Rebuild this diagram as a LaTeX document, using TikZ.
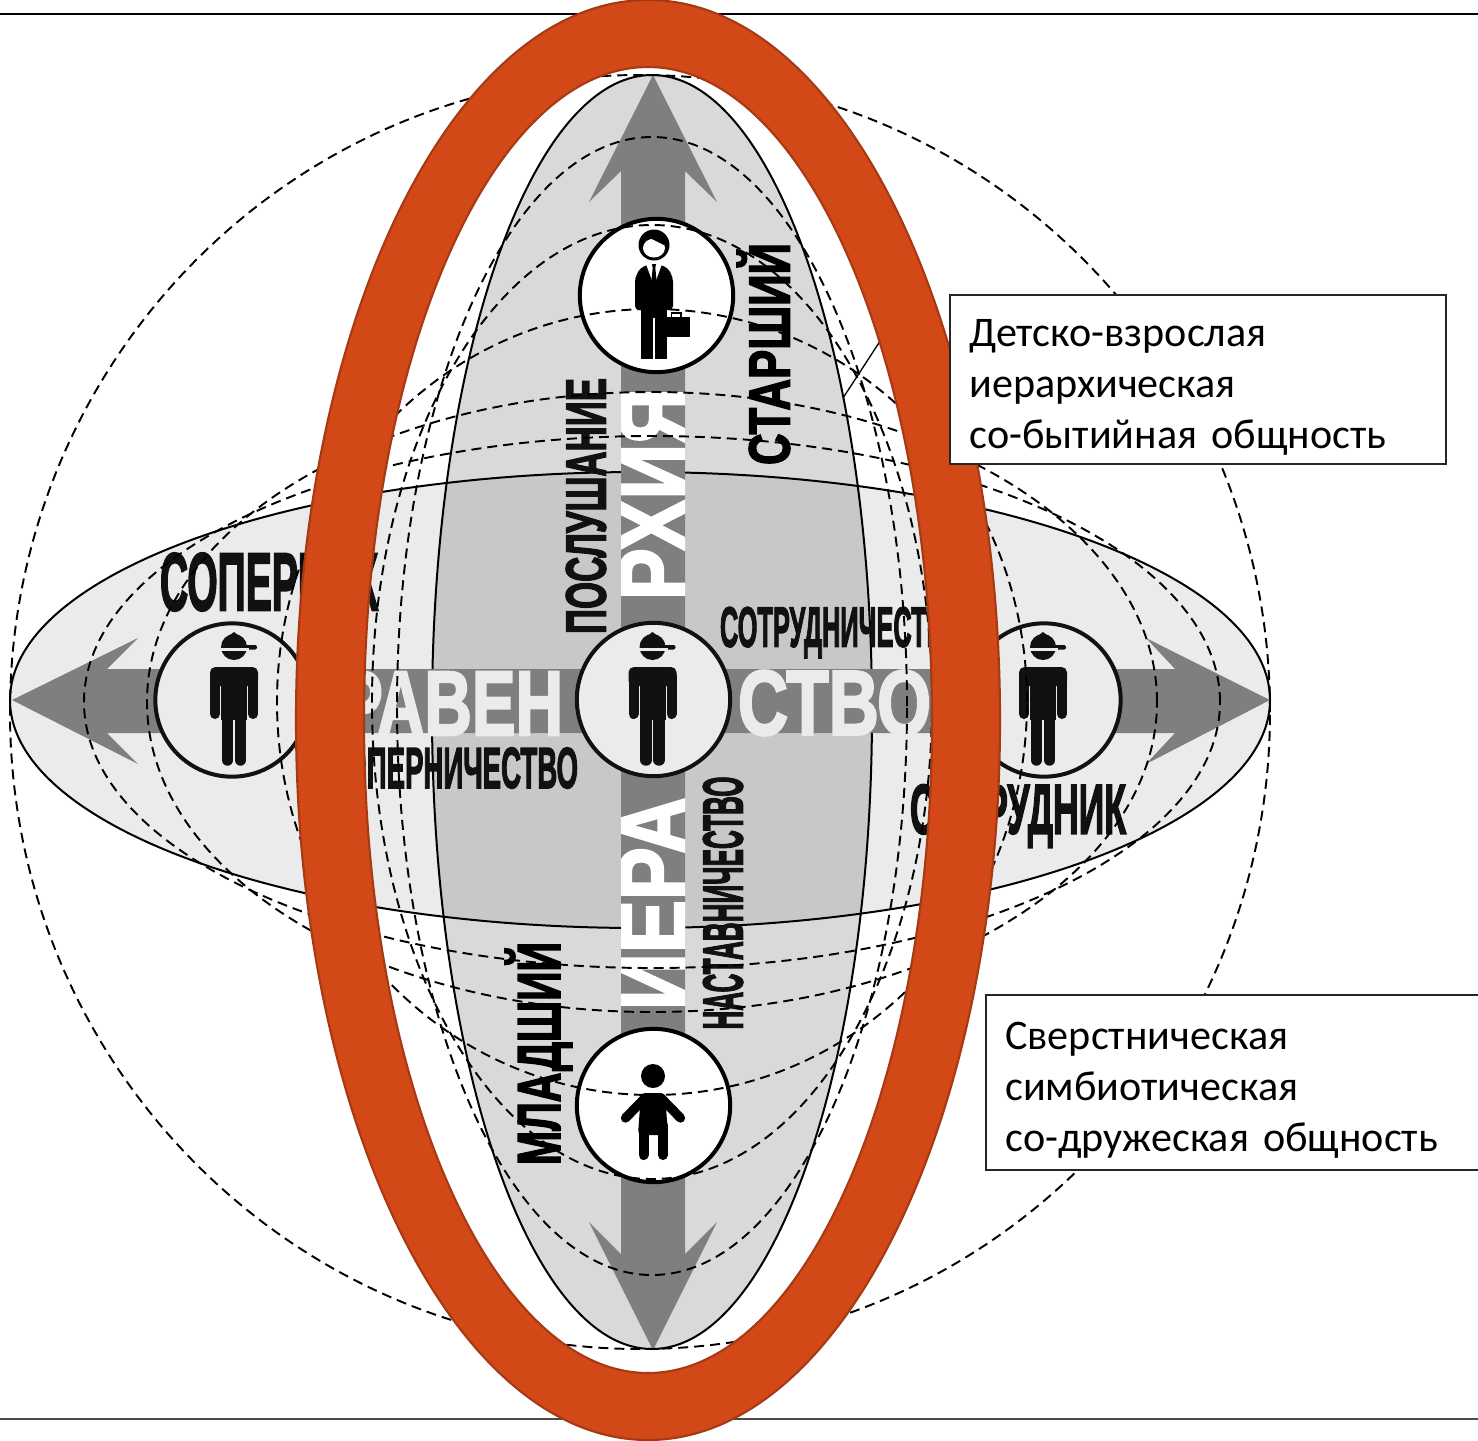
\documentclass[tikz,border=0pt]{standalone}
\usepackage{graphicx}
\usepackage{fontspec}
\setmainfont{Carlito}
\setsansfont{Liberation Sans}[BoldFeatures={FakeBold=2.8}]
\definecolor{ringfill}{HTML}{D34817}
\definecolor{ringedge}{HTML}{A63A12}
\definecolor{hfill}{HTML}{EBEBEB}
\definecolor{vfill}{HTML}{D9D9D9}
\definecolor{xfill}{HTML}{C8C8C8}
\definecolor{barfill}{HTML}{7F7F7F}
\definecolor{ink}{HTML}{111111}
\newdimen\unitpx \unitpx=0.75pt
\newcommand{\pxellipse}[4]{(#1,#2) ellipse [x radius=#3*0.75pt, y radius=#4*0.75pt]}
% name, cx, cy, width, height, rotation, colour, text
\newcommand{\squeezed}[8]{\node[lbl,rotate=#6,text=#7] (#1) at (#2,#3) {\resizebox*{#4\unitpx}{#5\unitpx}{#8}};}
\newcommand{\boyicon}[3]{%
  \begin{scope}[shift={(#1,#2)}]
    \fill[#3] (2,-53) circle [radius=13*0.75pt];
    \fill[#3,rounded corners=1.5pt] (2,-55) rectangle (25,-50.5);
    \fill[#3] (2,-68) -- (6,-65) -- (-2,-65) -- cycle;
    \fill[hfill] (-13,-52.5) rectangle (17,-49.5);
    \fill[#3,rounded corners=4pt] (-22,-33) rectangle (26,-14);
    \draw[#3,line width=7.5pt,line cap=round] (-17,-24) -- (-17,14);
    \draw[#3,line width=7.5pt,line cap=round] (21,-24) -- (21,14);
    \fill[#3] (-11,-33) rectangle (15,20);
    \draw[#3,line width=8.6pt,line cap=round] (-4.5,10) -- (-4.5,60);
    \draw[#3,line width=8.6pt,line cap=round] (8.5,10) -- (8.5,60);
  \end{scope}}
\tikzset{
  x=0.75pt,y=-0.75pt,
  lbl/.style={inner sep=0pt,outer sep=0pt,font=\sffamily\bfseries},
  solidrim/.style={draw=black,line width=1.5pt},
  dashrim/.style={draw=black,line width=1.45pt,dash pattern=on 7.5pt off 4.5pt},
  rimcircle/.style={line width=3pt},
  infobox/.style={draw=black!85,fill=white,line width=1.1pt,anchor=north west,align=left,
    font=\fontsize{31.6pt}{38.25pt}\selectfont,inner xsep=14.5pt,inner ysep=0pt,outer sep=0pt},
}
\begin{document}
\begin{tikzpicture}
\useasboundingbox (0,0) rectangle (1478,1440);
\clip (0,0) rectangle (1478,1440);
\fill[white] (0,0) rectangle (1478,1440);
% rules
\coordinate (ruleTL) at (0,14); \coordinate (ruleTR) at (1478,14);
\coordinate (ruleBL) at (0,1419); \coordinate (ruleBR) at (1478,1419);
\draw[black,line width=0.9pt] (ruleTL) -- (ruleTR);
\draw[black!70,line width=0.9pt] (ruleBL) -- (ruleBR);
% ellipses
\fill[hfill] \pxellipse{640}{700}{630}{228};
\fill[vfill] \pxellipse{652}{712}{220}{637};
\begin{scope}
  \clip \pxellipse{640}{700}{630}{228};
  \fill[xfill] \pxellipse{652}{712}{220}{637};
\end{scope}
\draw[solidrim] \pxellipse{640}{700}{630}{228};
\draw[solidrim] \pxellipse{652}{712}{220}{637};
% arrows
\fill[barfill] (653,75) -- (717,202) -- (685,171) -- (685,1254) -- (717,1222) -- (653,1350)
  -- (589,1222) -- (621,1254) -- (621,171) -- (589,202) -- cycle;
\fill[barfill] (12,700) -- (138,638) -- (107,669) -- (1175,669) -- (1146,638) -- (1270,700)
  -- (1146,764) -- (1175,733) -- (107,733) -- (138,764) -- cycle;
% labels
\squeezed{sop}{269}{582}{218}{58}{0}{ink}{СОПЕРНИК}
\squeezed{sopch}{452}{768}{252}{41}{0}{ink}{СОПЕРНИЧЕСТВО}
\squeezed{sotch}{842}{632.5}{244}{51}{0}{ink}{СОТРУДНИЧЕСТВО}
\squeezed{sotr}{1018}{816}{216}{63}{0}{ink}{СОТРУДНИК}
\squeezed{rav}{451}{703.5}{224}{63}{0}{hfill}{РАВЕН}
\squeezed{stv}{834.5}{703}{193}{65}{0}{hfill}{СТВО}
\begin{scope}
  \clip (621,300) rectangle (685,1100);
  \squeezed{ier}{653}{903.5}{213}{66}{90}{white}{ИЕРА}
  \squeezed{arh}{653}{494}{212}{66}{90}{white}{РХИЯ}
\end{scope}
\squeezed{posl}{586}{506}{256}{40}{90}{ink}{ПОСЛУШАНИЕ}
\squeezed{nast}{723}{903}{253}{40}{90}{ink}{НАСТАВНИЧЕСТВО}
\squeezed{star}{763.5}{354}{222}{53}{90}{black}{СТАРШИЙ}
\squeezed{mlad}{538.5}{1053.5}{223}{67}{90}{black}{МЛАДШИЙ}
% person circles
\node[circle,minimum size=115pt,inner sep=0pt,draw=ink,fill=hfill,rimcircle] (cl) at (232,700) {};
\node[circle,minimum size=115pt,inner sep=0pt,draw=ink,fill=hfill,rimcircle] (cc) at (653.5,699.5) {};
\node[circle,minimum size=115pt,inner sep=0pt,draw=ink,fill=hfill,rimcircle] (cr) at (1044,700) {};
\node[circle,minimum size=115pt,inner sep=0pt,draw=black,fill=white,rimcircle] (ct) at (656.5,295.5) {};
\node[circle,minimum size=115pt,inner sep=0pt,draw=black,fill=white,rimcircle] (cb) at (653.5,1105.5) {};
\boyicon{232}{700}{ink}
\boyicon{650.5}{700}{ink}
\boyicon{1041}{700}{ink}
% adult
\fill[black] (654,245) circle [radius=15.5*0.75pt];
\fill[white] (654,248) ellipse [x radius=11*0.75pt, y radius=9.5*0.75pt];
\fill[black] (643,240) -- (654,233) -- (666,240) -- (664,245) -- (652,239) -- cycle;
\fill[black,rounded corners=3pt] (635,310) -- (635,278) -- (640,268) -- (650,264) -- (658,264) -- (668,268) -- (673,278) -- (673,310) -- cycle;
\fill[white] (646,264) -- (662,264) -- (654,286) -- cycle;
\fill[black] (652,264) -- (656,264) -- (655.3,268) -- (657,284) -- (654,289) -- (651,284) -- (652.7,268) -- cycle;
\fill[black] (641,308) rectangle (667,359);
\fill[white] (653,318) rectangle (655,360);
\fill[black] (664,317) rectangle (689.5,337);
\draw[black,line width=1.4pt] (671.5,317) -- (671.5,313) -- (681,313) -- (681,317);
% child
\fill[black] (653,1076) circle [radius=12*0.75pt];
\fill[black,rounded corners=3pt] (641,1093) -- (665,1093) -- (668,1135) -- (638,1135) -- cycle;
\draw[black,line width=7pt,line cap=round] (645,1098) -- (625.5,1118);
\draw[black,line width=7pt,line cap=round] (661,1098) -- (680.5,1118);
\draw[black,line width=7.5pt,line cap=round] (643.5,1125) -- (643.5,1155);
\draw[black,line width=7.5pt,line cap=round] (663,1125) -- (663,1155);
% dashed ellipses
\draw[dashrim] \pxellipse{640}{712}{630}{637};
\draw[dashrim] \pxellipse{652}{702}{568}{266};
\draw[dashrim] \pxellipse{652}{702}{505}{310};
\draw[dashrim] \pxellipse{652}{702}{375}{393};
\draw[dashrim] \pxellipse{652}{702}{280}{477};
\draw[dashrim] \pxellipse{652}{706}{255}{569};
% callout
\coordinate (calloutA) at (843,398); \coordinate (calloutB) at (886,332);
\draw[black,line width=1pt] (calloutA) -- (calloutB);
% ring
\path[fill=ringfill,even odd rule,draw=ringedge,line width=1.6pt]
  \pxellipse{648}{720}{352}{720} \pxellipse{648}{720}{284}{653};
% boxes
\node[infobox,text width=343pt,minimum height=126.75pt] (box1) at (950,295)
  {\rule{0pt}{32pt}Детско-взрослая\\иерархическая\\со-бытийная общность};
\node[infobox,text width=360pt,minimum height=131.25pt] (box2) at (986,995)
  {\rule{0pt}{32pt}Сверстническая\\симбиотическая\\со-дружеская общность};
\end{tikzpicture}
\end{document}
